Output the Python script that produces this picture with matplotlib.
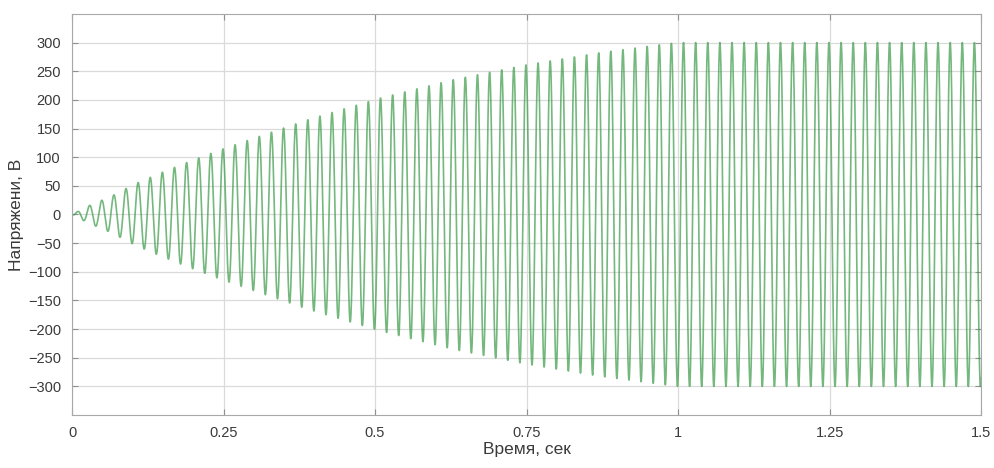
import numpy as np
import matplotlib.pyplot as plt

plt.rcParams["font.family"] = ["Liberation Sans", "DejaVu Sans"]

# envelope of the voltage (time, amplitude in V)
env_t = [0, 0.025, 0.065, 0.105, 0.145, 0.185, 0.245, 0.388, 0.508,
         0.628, 0.749, 0.869, 0.968, 1.0, 1.5]
env_a = [0, 14, 32, 54, 72, 89, 113, 165, 203,
         235, 261, 282, 296, 300, 300]
freq = 50.0          # Hz, ~75 periods over 1.5 s
first_peak = 0.009   # s

xticks = [0, 0.25, 0.5, 0.75, 1, 1.25, 1.5]
xlabels = ["0", "0.25", "0.5", "0.75", "1", "1.25", "1.5"]
yticks = list(range(-300, 301, 50))

t = np.linspace(0, 1.5, 15001)
amp = np.interp(t, env_t, env_a)
u = amp * np.cos(2 * np.pi * freq * (t - first_peak))

fig = plt.figure(figsize=(9.95, 4.68), dpi=100)
ax = fig.add_axes([0.0724, 0.1132, 0.9136, 0.857])
ax.plot(t, u, color="#3a9a48", lw=1.2, alpha=0.7)

ax.set_xlim(0, 1.5)
ax.set_ylim(-350, 350)
ax.set_xticks(xticks)
ax.set_xticklabels(xlabels)
ax.set_yticks(yticks)
ax.grid(True, color="#dadada", lw=0.9)
ax.set_axisbelow(True)
ax.tick_params(direction="in", length=4, width=0.8, color="#909090",
               top=True, right=True, labelsize=10.5, labelcolor="#3a3a3a", pad=8)
for s in ax.spines.values():
    s.set_color("#a8a8a8")
ax.set_xlabel("Время, сек", fontsize=12.5, color="#3a3a3a", labelpad=1)
ax.set_ylabel("Напряжени, В", fontsize=12.5, color="#3a3a3a", labelpad=3)

fig.savefig("out.png", dpi=100)
